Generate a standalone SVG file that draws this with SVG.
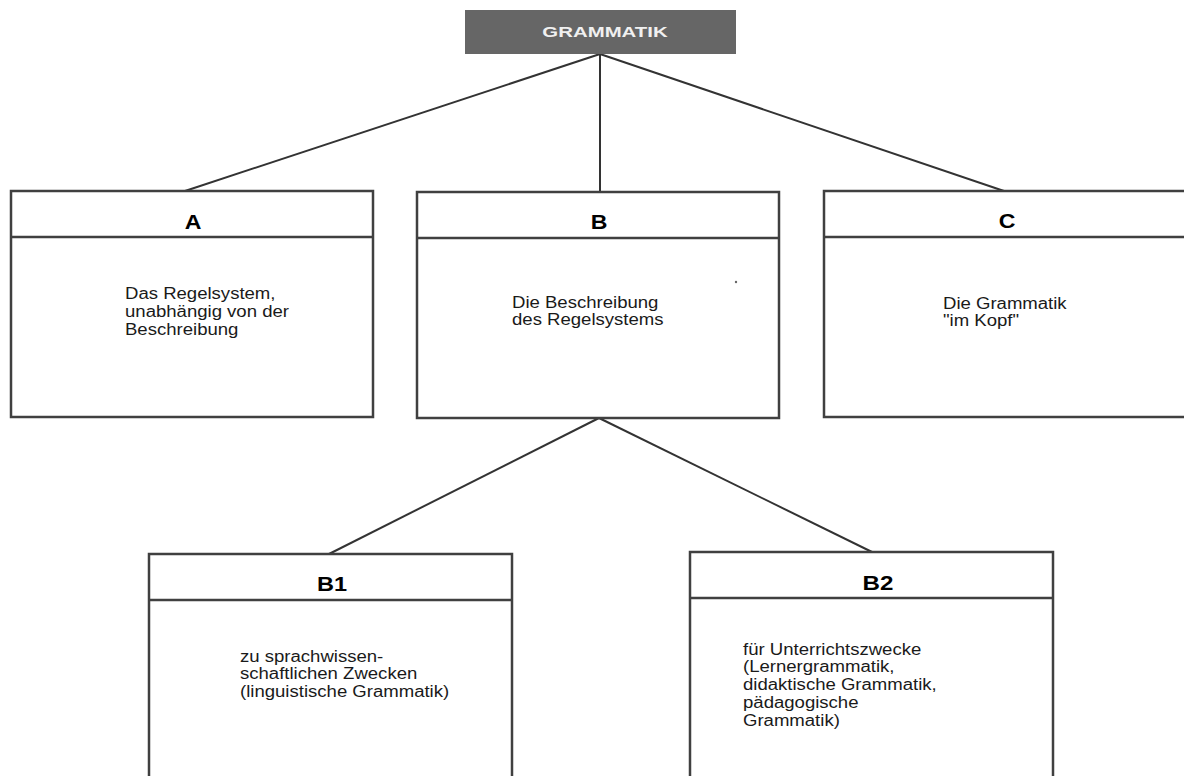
<svg xmlns="http://www.w3.org/2000/svg" width="1184" height="776" viewBox="0 0 1184 776">
<style>
.box{fill:#fff;stroke:#404040;stroke-width:2.5}
.div{stroke:#404040;stroke-width:2.5}
.conn{stroke:#333;stroke-width:2;fill:none}
.hd{font-family:"Liberation Sans",Arial,sans-serif;font-weight:bold;font-size:21px;fill:#000;text-anchor:middle}
.bd{font-family:"Liberation Sans",Arial,sans-serif;font-size:16px;fill:#1a1a1a}
.top{font-family:"Liberation Sans",Arial,sans-serif;font-weight:bold;font-size:15px;fill:#f0f0f0;text-anchor:middle}
</style>
<rect width="1184" height="776" fill="#fff"/>
<g id="connectors">
<line class="conn" x1="600" y1="54" x2="185" y2="191"/>
<line class="conn" x1="600" y1="54" x2="600" y2="192"/>
<line class="conn" x1="600" y1="54" x2="1004" y2="191"/>
<line class="conn" x1="599" y1="418" x2="329" y2="554"/>
<line class="conn" x1="599" y1="418" x2="872" y2="552"/>
</g>
<g id="grammatik">
<rect x="465" y="10" width="271" height="44" fill="#666"/>
<text class="top" transform="translate(605,37) scale(1.36,1)">GRAMMATIK</text>
</g>
<g id="nodeA">
<rect class="box" x="11" y="191" width="362" height="226"/>
<line class="div" x1="11" y1="237" x2="373" y2="237"/>
<text class="hd" transform="translate(193,228.5) scale(1.1,1)">A</text>
<text class="bd" transform="translate(125,299.3) scale(1.16,1)"><tspan x="0" y="0">Das Regelsystem,</tspan><tspan x="0" y="18">unabhängig von der</tspan><tspan x="0" y="36">Beschreibung</tspan></text>
</g>
<g id="nodeB">
<rect class="box" x="417" y="192" width="362" height="226"/>
<line class="div" x1="417" y1="238" x2="779" y2="238"/>
<text class="hd" transform="translate(599,229) scale(1.1,1)">B</text>
<text class="bd" transform="translate(512,307.5) scale(1.16,1)"><tspan x="0" y="0">Die Beschreibung</tspan><tspan x="0" y="18">des Regelsystems</tspan></text>
<circle cx="736" cy="282" r="1.2" fill="#666"/>
</g>
<g id="nodeC">
<rect class="box" x="824" y="191" width="380" height="226"/>
<line class="div" x1="824" y1="237" x2="1190" y2="237"/>
<text class="hd" transform="translate(1007,228) scale(1.1,1)">C</text>
<text class="bd" transform="translate(943,309) scale(1.16,1)"><tspan x="0" y="0">Die Grammatik</tspan><tspan x="0" y="17">"im Kopf"</tspan></text>
</g>
<g id="nodeB1">
<rect class="box" x="149" y="554" width="363" height="240"/>
<line class="div" x1="149" y1="600" x2="512" y2="600"/>
<text class="hd" transform="translate(332,591) scale(1.12,1)">B1</text>
<text class="bd" transform="translate(240,661.7) scale(1.16,1)"><tspan x="0" y="0">zu sprachwissen-</tspan><tspan x="0" y="17.8">schaftlichen Zwecken</tspan><tspan x="0" y="35.6">(linguistische Grammatik)</tspan></text>
</g>
<g id="nodeB2">
<rect class="box" x="690" y="552" width="363" height="240"/>
<line class="div" x1="690" y1="598" x2="1053" y2="598"/>
<text class="hd" transform="translate(878,590) scale(1.15,1)">B2</text>
<text class="bd" transform="translate(743,655) scale(1.16,1)"><tspan x="0" y="0">für Unterrichtszwecke</tspan><tspan x="0" y="17.5">(Lernergrammatik,</tspan><tspan x="0" y="35">didaktische Grammatik,</tspan><tspan x="0" y="52.7">pädagogische</tspan><tspan x="0" y="71.5">Grammatik)</tspan></text>
</g>
</svg>
